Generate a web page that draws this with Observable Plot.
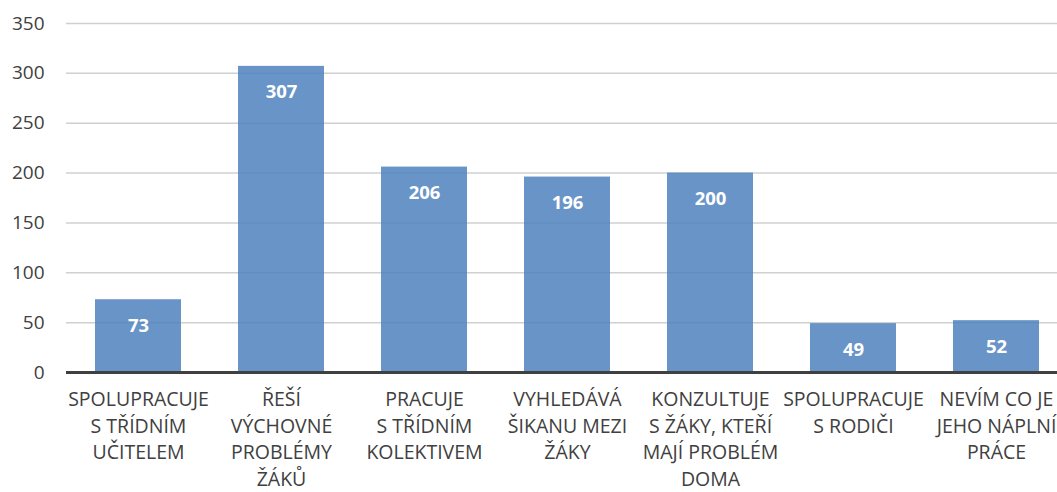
<!DOCTYPE html>
<html>
<head>
<meta charset="utf-8">
<script src="https://cdn.jsdelivr.net/npm/d3@7"></script>
<script src="https://cdn.jsdelivr.net/npm/@observablehq/plot@0.6"></script>
<style>
  body { margin: 0; background: #fff; }
  #chart svg { font-family: "Open Sans", sans-serif; }
</style>
</head>
<body>
<div id="chart"></div>
<script>
const categories = [
  "SPOLUPRACUJE\nS TŘÍDNÍM\nUČITELEM",
  "ŘEŠÍ\nVÝCHOVNÉ\nPROBLÉMY\nŽÁKŮ",
  "PRACUJE\nS TŘÍDNÍM\nKOLEKTIVEM",
  "VYHLEDÁVÁ\nŠIKANU MEZI\nŽÁKY",
  "KONZULTUJE\nS ŽÁKY, KTEŘÍ\nMAJÍ PROBLÉM\nDOMA",
  "SPOLUPRACUJE\nS RODIČI",
  "NEVÍM CO JE\nJEHO NÁPLNÍ\nPRÁCE"
];
const values = [73, 307, 206, 196, 200, 49, 52];
const yTicks = [0, 50, 100, 150, 200, 250, 300, 350];
const gridTicks = [50, 100, 150, 200, 250, 300, 350];

const data = categories.map((c, i) => ({category: c, value: values[i]}));

const chart = Plot.plot({
  width: 1057,
  height: 492,
  marginTop: 23,
  marginBottom: 120,
  marginLeft: 66,
  marginRight: 0,
  style: {fontFamily: "'Open Sans', sans-serif", color: "#404040", background: "#fff"},
  x: {domain: categories, range: [66, 1068], paddingInner: 0.4, paddingOuter: 0.2, label: null},
  y: {domain: [0, 350], label: null},
  marks: [
    Plot.ruleY(gridTicks, {stroke: "#d0d0d0", strokeWidth: 1.5}),
    Plot.barY(data, {x: "category", y: "value", fill: "#4f81bd", fillOpacity: 0.85}),
    Plot.ruleY([0], {stroke: "#404040", strokeWidth: 3}),
    Plot.text(data, {x: "category", y: "value", text: d => String(d.value), dy: 26, fill: "white", fontWeight: "bold", fontSize: 18.5}),
    Plot.axisY(yTicks, {tickSize: 0, tickPadding: 22, fontSize: 19, fill: "#404040", label: null}),
    Plot.axisX({tickSize: 0, tickPadding: 15, fontSize: 19.5, fill: "#404040", lineHeight: 1.36, label: null})
  ]
});
document.getElementById("chart").appendChild(chart);
</script>
</body>
</html>
